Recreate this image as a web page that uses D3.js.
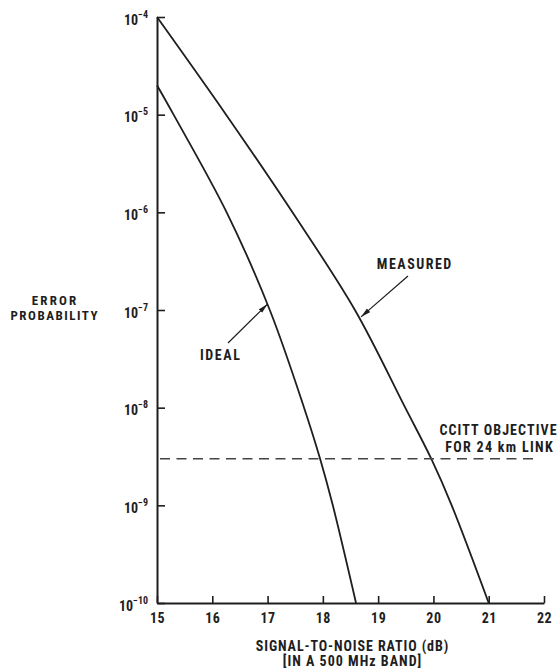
<!DOCTYPE html>
<html>
<head>
<meta charset="utf-8">
<script src="https://cdn.jsdelivr.net/npm/d3@7"></script>
<style>
  html, body { margin: 0; padding: 0; background: #fff; }
  svg { display: block; }
  text { font-family: "Liberation Sans Narrow", "Roboto Condensed", "DejaVu Sans Condensed", sans-serif; font-weight: bold; fill: #1e1e1e; }
</style>
</head>
<body>
<script>
// Error probability vs. signal-to-noise ratio
const xTicks = [15, 16, 17, 18, 19, 20, 21, 22];
const yTickExponents = [-4, -5, -6, -7, -8, -9, -10];

// Ideal curve: SNR (dB) and error probability
const idealSnr = [15.0, 15.3, 16.26, 17.04, 17.66, 17.95, 18.18, 18.6];
const idealProb = [2.0e-5, 1e-5, 1e-6, 1e-7, 1e-8, 3e-9, 1e-9, 1e-10];

// Measured curve
const measuredSnr = [15.0, 16.25, 17.45, 18.58, 19.49, 19.96, 20.33, 21.0];
const measuredProb = [1e-4, 1e-5, 1e-6, 1e-7, 1e-8, 3e-9, 1e-9, 1e-10];

// CCITT objective for a 24 km link
const objectiveProb = 3e-9;

const W = 560, H = 670;
const svg = d3.select("body").append("svg").attr("width", W).attr("height", H);

const x = d3.scaleLinear().domain([15, 22]).range([157, 544]);
const y = d3.scaleLog().domain([1e-10, 1e-4]).range([603, 17]);

const ink = "#1e1e1e";

svg.append("defs").append("marker")
  .attr("id", "arrow")
  .attr("viewBox", "0 0 10 6")
  .attr("refX", 10).attr("refY", 3)
  .attr("markerWidth", 10).attr("markerHeight", 6)
  .attr("markerUnits", "userSpaceOnUse")
  .attr("orient", "auto")
  .append("path").attr("d", "M0,0.6 L10,3 L0,5.4 Z").attr("fill", ink);

// X axis (ticks pointing up into the plot)
const xAxis = d3.axisBottom(x)
  .tickValues(xTicks)
  .tickSizeInner(-7).tickSizeOuter(0)
  .tickPadding(10)
  .tickFormat(d3.format("d"));
const gx = svg.append("g").attr("transform", `translate(0,${y(1e-10)})`).call(xAxis);
gx.attr("font-family", null);
gx.select(".domain").attr("stroke", ink).attr("stroke-width", 2);
gx.selectAll(".tick line").attr("stroke", ink).attr("stroke-width", 1.6);
gx.selectAll(".tick text").attr("font-size", 14).attr("fill", ink).attr("dy", "0.72em")
  .attr("letter-spacing", 0.5);

// Y axis (ticks pointing right into the plot), powers of ten
const yAxis = d3.axisLeft(y)
  .tickValues(yTickExponents.map(e => Math.pow(10, e)))
  .tickSizeInner(-8).tickSizeOuter(0)
  .tickFormat("");
const gy = svg.append("g").attr("transform", `translate(${x(15)},0)`).call(yAxis);
gy.attr("font-family", null);
gy.select(".domain").attr("stroke", ink).attr("stroke-width", 2);
gy.selectAll(".tick line").attr("stroke", ink).attr("stroke-width", 1.6);
gy.selectAll(".tick").each(function (d, i) {
  const t = d3.select(this).append("text")
    .attr("x", -9).attr("y", 7)
    .attr("text-anchor", "end")
    .attr("font-size", 14).attr("fill", ink);
  t.append("tspan").text("10");
  t.append("tspan").attr("dy", -7).attr("font-size", 10).text("\u2212" + Math.abs(yTickExponents[i]));
});

// Curves
const line = d3.line()
  .x(d => x(d[0])).y(d => y(d[1]))
  .curve(d3.curveCatmullRom.alpha(0.5));

const idealData = d3.zip(idealSnr, idealProb);
const measuredData = d3.zip(measuredSnr, measuredProb);

svg.append("path").datum(idealData).attr("d", line)
  .attr("fill", "none").attr("stroke", ink).attr("stroke-width", 1.8);
svg.append("path").datum(measuredData).attr("d", line)
  .attr("fill", "none").attr("stroke", ink).attr("stroke-width", 1.8);

// Objective line
svg.append("line")
  .attr("x1", x(15) + 3).attr("x2", x(21.9))
  .attr("y1", y(objectiveProb)).attr("y2", y(objectiveProb))
  .attr("stroke", "#444").attr("stroke-width", 1.3)
  .attr("stroke-dasharray", "10,6.5");

// Text helper: centred label, offset by half the trailing letter spacing
function label(cx, cy, str, size, ls) {
  svg.append("text")
    .attr("x", cx + ls / 2).attr("y", cy)
    .attr("text-anchor", "middle")
    .attr("font-size", size)
    .attr("letter-spacing", ls)
    .text(str);
}

// Curve labels with pointer arrows
svg.append("line")
  .attr("x1", 228).attr("y1", 343).attr("x2", x(17.0)).attr("y2", y(1.15e-7))
  .attr("stroke", ink).attr("stroke-width", 1.2).attr("marker-end", "url(#arrow)");
label(220, 360, "IDEAL", 14, 1.6);

svg.append("line")
  .attr("x1", 408).attr("y1", 276).attr("x2", x(18.69)).attr("y2", y(0.85e-7))
  .attr("stroke", ink).attr("stroke-width", 1.2).attr("marker-end", "url(#arrow)");
label(414, 269, "MEASURED", 14, 1.5);

label(498, 435, "CCITT OBJECTIVE", 14, 1.1);
label(499, 452, "FOR 24 km LINK", 14, 1.3);

// Axis titles
label(54, 305, "ERROR", 13, 2.2);
label(54, 320, "PROBABILITY", 13, 1.5);

label(352, 651, "SIGNAL-TO-NOISE RATIO (dB)", 14, 0.9);
label(352, 666, "[IN A 500 MHz BAND]", 14, 1.0);
</script>
</body>
</html>
